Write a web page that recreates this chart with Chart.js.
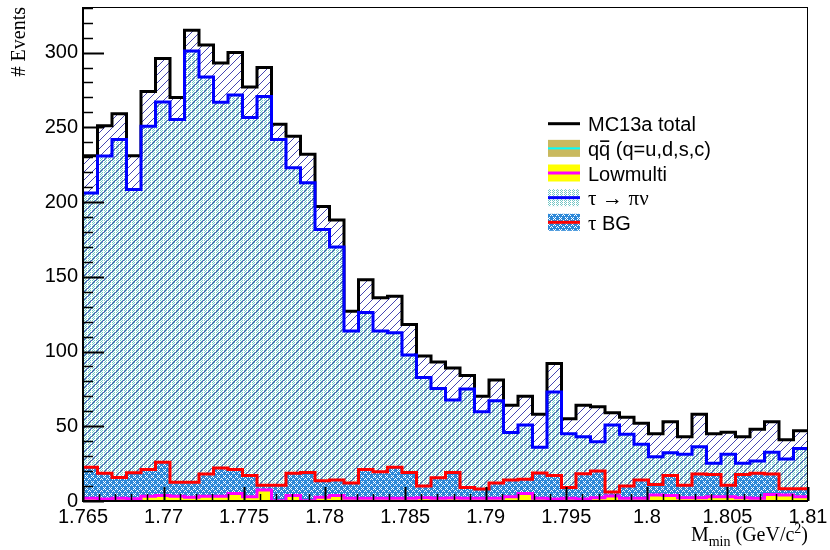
<!DOCTYPE html>
<html lang="en">
<head>
<meta charset="UTF-8">
<title>M_min distribution</title>
<script src="https://cdn.jsdelivr.net/npm/chart.js"></script>
<style>
    body {
        margin: 0;
        background: #ffffff;
    }
    #wrap {
        width: 830px;
        height: 550px;
    }
</style>
</head>
<body>
<div id="wrap"><canvas id="mminChart" width="830" height="550"></canvas></div>

<script>
    // 50 bins between 1.765 and 1.81 GeV/c^2
    const xMin = 1.765, xMax = 1.81, nBins = 50;
    const yMax = 330.5;
    const xTickLabels = [1.765, 1.77, 1.775, 1.78, 1.785, 1.79, 1.795, 1.8, 1.805, 1.81];
    const yTickLabels = [0, 50, 100, 150, 200, 250, 300];
    const seriesNames = ['MC13a total', 'qq\u0304 (q=u,d,s,c)', 'Lowmulti', '\u03c4 \u2192 \u03c0\u03bd', '\u03c4 BG'];

    // events per bin
    const mcTotal = [231, 251, 259, 231, 274, 296, 270, 315, 305, 293,
                     300, 277, 290, 252, 244, 232, 197, 188, 127, 148,
                     136, 137, 118, 97, 93, 89, 84, 70, 81, 64,
                     70, 58, 92, 55, 64, 63, 59, 56, 52, 45,
                     53, 43, 58, 45, 46, 43, 48, 53, 41, 47];
    const qqbar = [0, 0, 0, 0, 0, 0, 0, 0, 0, 0,
                   0, 0, 0, 0, 0, 0, 0, 0, 0, 0,
                   0, 0, 0, 0, 0, 0, 0, 0, 0, 0,
                   0, 0, 0, 0, 0, 0, 0, 0, 0, 0,
                   0, 0, 0, 0, 0, 0, 0, 0, 0, 0];
    const lowMulti = [1.8, 1.3, 1.8, 1.5, 3.1, 3.6, 3.1, 2.5, 3.1, 3.1,
                      5.1, 2.9, 7.4, 0.2, 3.6, 0.2, 2.5, 3.6, 1.8, 1.8,
                      1.8, 1.8, 1.8, 2.2, 1.8, 2.0, 1.8, 1.8, 1.8, 2.9,
                      5.1, 1.8, 1.3, 1.8, 1.3, 2.2, 3.3, 1.8, 1.8, 4.0,
                      3.6, 2.2, 2.2, 2.9, 2.9, 2.2, 1.8, 4.4, 4.0, 2.9];
    const tauBG = [20.7, 17.2, 14.0, 17.4, 17.9, 22.4, 9.4, 10.0, 14.9, 18.9,
                   15.9, 14.1, 3.1, 10.3, 14.9, 18.8, 11.0, 10.4, 10.2, 19.2,
                   17.7, 20.7, 17.2, 7.8, 13.7, 17.0, 7.2, 6.2, 10.2, 11.1,
                   9.4, 16.9, 15.7, 7.2, 17.0, 17.8, 2.7, 8.2, 12.2, 7.0,
                   13.4, 8.3, 15.8, 14.8, 7.6, 15.5, 16.7, 13.6, 4.2, 5.3];
    const tauPiNu = [183.5, 212.3, 226.0, 189.5, 229.7, 240.9, 242.8, 288.5, 265.6, 244.7,
                     250.6, 239.5, 260.2, 231.3, 204.5, 194.0, 168.1, 156.0, 101.8, 105.1,
                     94.3, 90.0, 78.6, 72.7, 59.8, 48.5, 65.9, 51.7, 55.0, 31.9,
                     36.3, 17.2, 56.0, 36.0, 24.7, 19.6, 44.8, 34.6, 23.9, 18.6,
                     15.3, 20.7, 18.3, 7.5, 20.7, 7.5, 8.2, 14.6, 19.9, 27.0];

    const binWidth = (xMax - xMin) / nBins;

    // one point per left bin edge plus the closing right edge, drawn as steps
    function histPoints(vals) {
        let pts = vals.map((v, i) => ({ x: xMin + i * binWidth, y: v }));
        pts.push({ x: xMax, y: vals[vals.length - 1] });
        return pts;
    }

    function addUp(a, b) {
        return a.map((v, i) => v + b[i]);
    }

    // THStack-like cumulative tops
    const stackQQ = qqbar;
    const stackLow = addUp(stackQQ, lowMulti);
    const stackBG = addUp(stackLow, tauBG);
    const stackSig = addUp(stackBG, tauPiNu);

    const canvas = document.getElementById('mminChart');
    const ctx = canvas.getContext('2d');

    function makePattern(w, h, paint) {
        let c = document.createElement('canvas');
        c.width = w;
        c.height = h;
        paint(c.getContext('2d'));
        return ctx.createPattern(c, 'repeat');
    }

    // diagonal hatch for the total
    const hatchFill = makePattern(8, 8, g => {
        g.fillStyle = '#4646b2';
        for (let i = 0; i < 8; i++) g.fillRect(i, 7 - i, 1, 1);
    });
    // sparse dots for tau -> pi nu
    const dotFill = makePattern(4, 2, g => {
        g.fillStyle = '#74c6c6';
        g.fillRect(0, 0, 1, 1);
        g.fillRect(2, 0, 1, 1);
        g.fillRect(1, 1, 1, 1);
    });
    // blue with small white crosses for tau BG
    const crossFill = makePattern(6, 6, g => {
        g.fillStyle = '#2c88d8';
        g.fillRect(0, 0, 6, 6);
        g.fillStyle = '#ffffff';
        [[1, 1], [3, 1], [2, 2], [1, 3], [3, 3], [4, 5], [5, 4], [0, 5]].forEach(p => g.fillRect(p[0], p[1], 1, 1));
    });

    const stepStyle = { stepped: true, pointRadius: 0, tension: 0 };

    // frame, inward ticks, axis titles and legend in the ROOT look
    const rootStyle = {
        id: 'rootStyle',
        afterDatasetsDraw(chart) {
            const c = chart.ctx;
            const a = chart.chartArea;
            const xs = chart.scales.x, ys = chart.scales.y;
            c.save();
            c.strokeStyle = '#000';
            c.lineWidth = 1;
            c.strokeRect(a.left + 0.5, a.top + 0.5, a.right - a.left - 1, a.bottom - a.top - 1);
            c.lineWidth = 2;
            c.beginPath();
            c.moveTo(a.left, a.top);
            c.lineTo(a.left, a.bottom);
            c.lineTo(a.right, a.bottom);
            c.stroke();

            // y ticks: minor every 10, major every 50
            for (let v = 0; v <= yMax; v += 10) {
                const py = Math.round(ys.getPixelForValue(v)) + 0.5;
                const major = v % 50 === 0;
                c.lineWidth = major ? 2 : 1.5;
                c.beginPath();
                c.moveTo(a.left, py);
                c.lineTo(a.left + (major ? 21 : 10), py);
                c.stroke();
            }
            // x ticks: minor every 0.001, major every 0.005
            for (let k = 0; k <= 45; k++) {
                const px = Math.round(xs.getPixelForValue(xMin + k * 0.001)) + 0.5;
                const major = k % 5 === 0;
                c.lineWidth = major ? 2 : 1.5;
                c.beginPath();
                c.moveTo(px, a.bottom);
                c.lineTo(px, a.bottom - (major ? 14 : 7));
                c.stroke();
            }
            c.restore();
        },
        afterDraw(chart) {
            const c = chart.ctx;
            const a = chart.chartArea;
            c.save();
            c.fillStyle = '#000';

            // y title, aligned to the top of the axis
            c.font = '20px "Liberation Serif"';
            c.translate(25, a.top);
            c.rotate(-Math.PI / 2);
            c.textAlign = 'right';
            c.textBaseline = 'alphabetic';
            c.fillText('# Events', 0, 0);
            c.setTransform(1, 0, 0, 1, 0, 0);

            // x title M_min (GeV/c^2), aligned to the right end
            const parts = [
                { t: 'M', size: 20, dy: 0 },
                { t: 'min', size: 14, dy: 5 },
                { t: ' (GeV/c', size: 20, dy: 0 },
                { t: '2', size: 14, dy: -8 },
                { t: ')', size: 20, dy: 0 }
            ];
            c.textAlign = 'left';
            let total = 0;
            parts.forEach(p => {
                c.font = p.size + 'px "Liberation Serif"';
                p.w = c.measureText(p.t).width;
                total += p.w;
            });
            let tx = a.right - total;
            parts.forEach(p => {
                c.font = p.size + 'px "Liberation Serif"';
                c.fillText(p.t, tx, 541 + p.dy);
                tx += p.w;
            });

            // legend
            const ds = chart.data.datasets;
            const rows = [4, 0, 1, 3, 2];
            rows.forEach((di, r) => {
                const d = ds[di];
                const cy = 123.7 + r * 24.65;
                if (di !== 4) {
                    c.fillStyle = d.backgroundColor;
                    c.fillRect(548, cy - 8.5, 32, 17);
                }
                c.strokeStyle = d.borderColor;
                c.lineWidth = d.borderWidth;
                c.beginPath();
                c.moveTo(548, cy);
                c.lineTo(580, cy);
                c.stroke();
                c.fillStyle = '#000';
                let x = 588;
                const s = d.label;
                for (let i = 0; i < s.length; i++) {
                    if (s[i] === '\u0304') continue;
                    // greek letters and arrow in a serif face
                    c.font = s.charCodeAt(i) > 0x300 ? '21px "Liberation Serif"' : '20px "Liberation Sans"';
                    const w = c.measureText(s[i]).width;
                    c.fillText(s[i], x, cy + 7.5);
                    if (s[i + 1] === '\u0304') c.fillRect(x + 1, cy - 8, w - 2, 1.6);
                    x += w;
                }
            });
            c.restore();
        }
    };

    new Chart(ctx, {
        type: 'line',
        data: {
            datasets: [
                Object.assign({ label: seriesNames[1], data: histPoints(stackQQ), borderColor: '#00ffff', borderWidth: 2,
                    backgroundColor: '#c9b95e', fill: 'origin', order: 1 }, stepStyle),
                Object.assign({ label: seriesNames[2], data: histPoints(stackLow), borderColor: '#ff00ff', borderWidth: 3,
                    backgroundColor: '#ffff00', fill: '-1', order: 2 }, stepStyle),
                Object.assign({ label: seriesNames[4], data: histPoints(stackBG), borderColor: '#ff0000', borderWidth: 3,
                    backgroundColor: crossFill, fill: '-1', order: 3 }, stepStyle),
                Object.assign({ label: seriesNames[3], data: histPoints(stackSig), borderColor: '#0000ff', borderWidth: 3,
                    backgroundColor: dotFill, fill: '-1', order: 4 }, stepStyle),
                Object.assign({ label: seriesNames[0], data: histPoints(mcTotal), borderColor: '#000000', borderWidth: 3,
                    backgroundColor: hatchFill, fill: 'origin', order: 5 }, stepStyle)
            ]
        },
        options: {
            responsive: false,
            animation: false,
            layout: { padding: { top: 7, right: 22, left: 0, bottom: 0 } },
            plugins: {
                legend: { display: false },
                tooltip: { enabled: false }
            },
            scales: {
                x: {
                    type: 'linear',
                    min: xMin,
                    max: xMax,
                    grid: { display: false, drawTicks: false },
                    border: { display: false },
                    afterBuildTicks: s => { s.ticks = xTickLabels.map(v => ({ value: v })); },
                    afterFit: s => { s.height = 49; s.paddingLeft = 0; s.paddingRight = 0; },
                    ticks: {
                        autoSkip: false,
                        maxRotation: 0,
                        padding: 4,
                        color: '#000',
                        font: { family: 'Liberation Sans', size: 20 },
                        callback: v => String(v)
                    }
                },
                y: {
                    type: 'linear',
                    min: 0,
                    max: yMax,
                    grid: { display: false, drawTicks: false },
                    border: { display: false },
                    afterBuildTicks: s => { s.ticks = yTickLabels.map(v => ({ value: v })); },
                    afterFit: s => { s.width = 83; s.paddingTop = 0; s.paddingBottom = 0; },
                    ticks: {
                        padding: 5,
                        color: '#000',
                        font: { family: 'Liberation Sans', size: 20 },
                        callback: v => String(v)
                    }
                }
            }
        },
        plugins: [rootStyle]
    });
</script>
</body>
</html>
